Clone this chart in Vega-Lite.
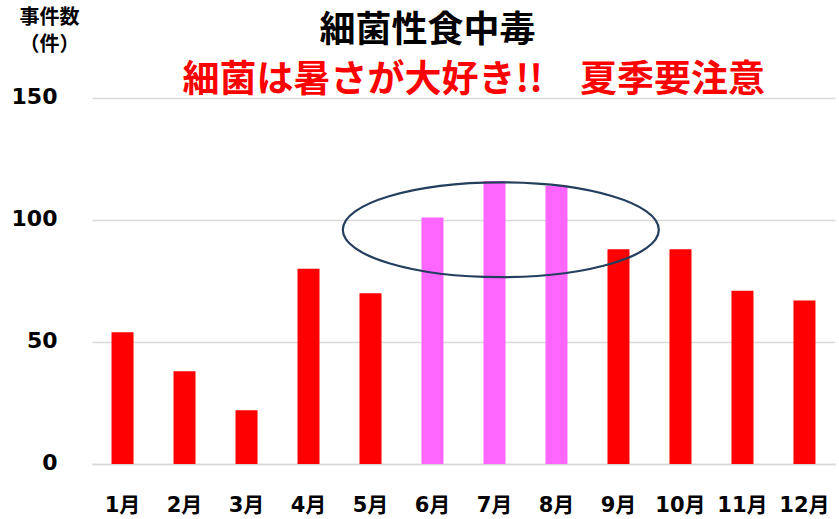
{
  "$schema": "https://vega.github.io/schema/vega-lite/v6.json",
  "width": 743,
  "height": 366,
  "autosize": {"type": "none"},
  "padding": {"left": 92, "top": 98, "right": 4, "bottom": 55},
  "background": "white",
  "config": {"view": {"stroke": null}},
  "title": {
    "text": "細菌性食中毒",
    "subtitle": "\u200b\u3000\u3000\u2002細菌は暑さが大好き!!　夏季要注意",
    "anchor": "middle",
    "frame": "group",
    "font": "Noto Sans CJK JP",
    "fontSize": 36,
    "fontWeight": "bold",
    "color": "#000000",
    "subtitleFont": "Noto Sans CJK JP",
    "subtitleFontSize": 37,
    "subtitleFontWeight": "bold",
    "subtitleColor": "#ff0000",
    "subtitlePadding": 13,
    "offset": -93,
    "dx": -36
  },
  "datasets": {
    "cases": [
      {"month": "1月", "count": 54, "period": "その他"},
      {"month": "2月", "count": 38, "period": "その他"},
      {"month": "3月", "count": 22, "period": "その他"},
      {"month": "4月", "count": 80, "period": "その他"},
      {"month": "5月", "count": 70, "period": "その他"},
      {"month": "6月", "count": 101, "period": "夏季"},
      {"month": "7月", "count": 116, "period": "夏季"},
      {"month": "8月", "count": 114, "period": "夏季"},
      {"month": "9月", "count": 88, "period": "その他"},
      {"month": "10月", "count": 88, "period": "その他"},
      {"month": "11月", "count": 71, "period": "その他"},
      {"month": "12月", "count": 67, "period": "その他"}
    ],
    "highlight": [
      {"month": "7月", "count": 96}
    ]
  },
  "encoding": {
    "x": {
      "field": "month",
      "type": "nominal",
      "sort": null,
      "scale": {"domain": ["1月","2月","3月","4月","5月","6月","7月","8月","9月","10月","11月","12月"], "paddingInner": 0.645, "paddingOuter": 0.315},
      "axis": {
        "title": null,
        "labelAngle": 0,
        "labelFont": "'DejaVu Sans', 'Noto Sans CJK JP'",
        "labelFontSize": 21,
        "labelFontWeight": "bold",
        "labelColor": "#000000",
        "labelPadding": 30,
        "ticks": false,
        "domain": true,
        "domainColor": "#d9d9d9",
        "domainWidth": 1.5,
        "grid": false
      }
    },
    "y": {
      "field": "count",
      "type": "quantitative",
      "scale": {"domain": [0, 150], "nice": false},
      "axis": {
        "values": [0, 50, 100, 150],
        "title": ["事件数", "（件）"],
        "titleAngle": 0,
        "titleAlign": "center",
        "titleBaseline": "top",
        "titleX": -43,
        "titleY": -91,
        "titleFont": "Noto Sans CJK JP",
        "titleFontSize": 20,
        "titleFontWeight": "bold",
        "titleColor": "#000000",
        "titleLineHeight": 27,
        "labelFont": "DejaVu Sans",
        "labelFontSize": 22,
        "labelFontWeight": "bold",
        "labelColor": "#000000",
        "labelPadding": 35,
        "labelOffset": -2,
        "ticks": false,
        "domain": false,
        "grid": true,
        "gridColor": "#d9d9d9",
        "gridWidth": 1.5
      }
    }
  },
  "layer": [
    {
      "data": {"name": "cases"},
      "mark": {"type": "bar"},
      "encoding": {
        "color": {
          "field": "period",
          "type": "nominal",
          "scale": {"domain": ["その他", "夏季"], "range": ["#ff0000", "#ff66ff"]},
          "legend": null
        }
      }
    },
    {
      "data": {"name": "highlight"},
      "mark": {
        "type": "point",
        "shape": "M -0.96 0 C -0.96 -0.1657 -0.5123 -0.3 0.04 -0.3 C 0.5923 -0.3 1.04 -0.1657 1.04 0 C 1.04 0.1657 0.5923 0.3 0.04 0.3 C -0.5123 0.3 -0.96 0.1657 -0.96 0 Z",
        "size": 99856,
        "filled": false,
        "fill": null,
        "stroke": "#243f5e",
        "strokeWidth": 2.2,
        "opacity": 1
      }
    }
  ]
}
